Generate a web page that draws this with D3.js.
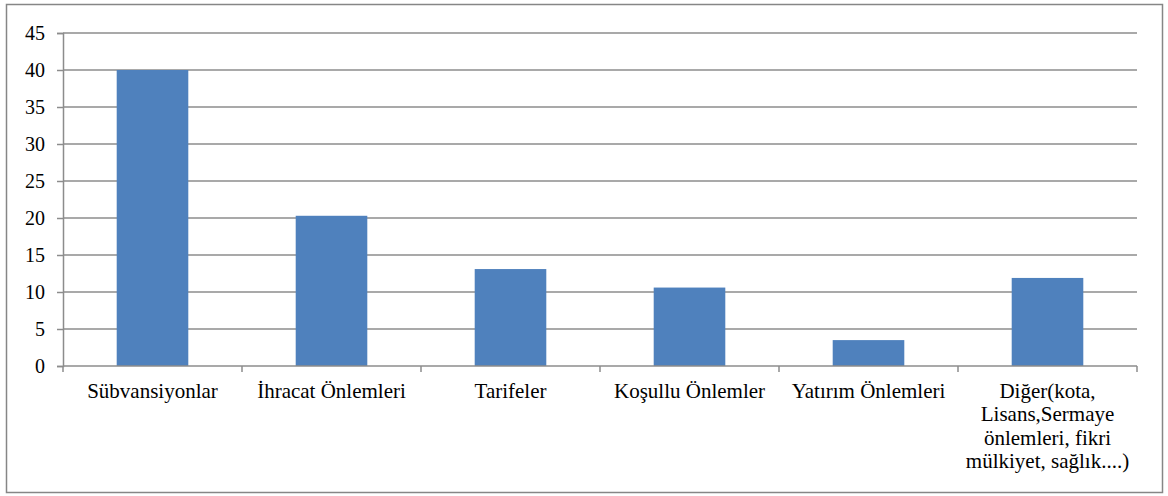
<!DOCTYPE html>
<html>
<head>
<meta charset="utf-8">
<script src="https://cdn.jsdelivr.net/npm/d3@7"></script>
</head>
<body style="margin:0;background:#fff">
<div id="chart"></div>
<script>
var categories = [
  ["Sübvansiyonlar"],
  ["İhracat Önlemleri"],
  ["Tarifeler"],
  ["Koşullu Önlemler"],
  ["Yatırım Önlemleri"],
  ["Diğer(kota,", "Lisans,Sermaye", "önlemleri, fikri", "mülkiyet, sağlık....)"]
];
var values = [40, 20.3, 13.1, 10.6, 3.5, 11.9];
var yTicks = [0, 5, 10, 15, 20, 25, 30, 35, 40, 45];

var FONT = "'Liberation Serif', 'Times New Roman', serif";

var W = 1168, H = 496,
    margin = {left: 63, right: 31, top: 33, bottom: 130},
    width = W - margin.left - margin.right,
    height = H - margin.top - margin.bottom;

var svg = d3.select("#chart").append("svg")
    .attr("width", W)
    .attr("height", H)
    .style("font-family", FONT);

// outer frame
svg.append("rect")
  .attr("x", 6.5).attr("y", 4.5)
  .attr("width", 1156).attr("height", 488)
  .attr("fill", "none")
  .attr("stroke", "#868686")
  .attr("stroke-width", 1.5);

var g = svg.append("g")
    .attr("transform", "translate(" + margin.left + "," + margin.top + ")");

var x = d3.scaleBand()
    .domain(d3.range(categories.length))
    .range([0, width])
    .paddingInner(0.6)
    .paddingOuter(0.3);

var xTick = d3.scaleLinear().domain([0, categories.length]).range([0, width]);

var y = d3.scaleLinear().domain([0, 45]).range([height, 0]);

// gridlines
g.selectAll(".grid")
  .data(yTicks.filter(function (d) { return d > 0; }))
  .enter().append("line")
    .attr("class", "grid")
    .attr("x1", 0).attr("x2", width)
    .attr("y1", function (d) { return y(d); })
    .attr("y2", function (d) { return y(d); })
    .attr("stroke", "#8c8c8c")
    .attr("stroke-width", 1.5);

// bars
g.selectAll(".bar")
  .data(values)
  .enter().append("rect")
    .attr("class", "bar")
    .attr("x", function (d, i) { return x(i); })
    .attr("width", x.bandwidth())
    .attr("y", function (d) { return y(d); })
    .attr("height", function (d) { return height - y(d); })
    .attr("fill", "#4f81bd");

// y axis
var yAxis = d3.axisLeft(y).tickValues(yTicks).tickSize(6).tickPadding(12);
var ya = g.append("g").call(yAxis);
ya.selectAll("path, line").attr("stroke", "#8c8c8c").attr("stroke-width", 1.5);
ya.selectAll("text")
  .style("font-family", FONT)
  .style("font-size", "20px")
  .attr("fill", "#000");

// x axis
g.append("line")
  .attr("x1", 0).attr("x2", width)
  .attr("y1", height).attr("y2", height)
  .attr("stroke", "#8c8c8c").attr("stroke-width", 1.5);
g.selectAll(".xtick")
  .data(d3.range(categories.length + 1))
  .enter().append("line")
    .attr("class", "xtick")
    .attr("x1", function (d) { return xTick(d); })
    .attr("x2", function (d) { return xTick(d); })
    .attr("y1", height).attr("y2", height + 6)
    .attr("stroke", "#8c8c8c").attr("stroke-width", 1.5);

var lbl = g.selectAll(".xlabel")
  .data(categories)
  .enter().append("text")
    .attr("class", "xlabel")
    .attr("text-anchor", "middle")
    .style("font-family", FONT)
    .style("font-size", "21px")
    .attr("fill", "#000")
    .attr("transform", function (d, i) {
      return "translate(" + (x(i) + x.bandwidth() / 2) + "," + (height + 32) + ")";
    });
lbl.selectAll("tspan")
  .data(function (d) { return d; })
  .enter().append("tspan")
    .attr("x", 0)
    .attr("y", function (d, i) { return i * 23.3; })
    .text(function (d) { return d; });
</script>
</body>
</html>
